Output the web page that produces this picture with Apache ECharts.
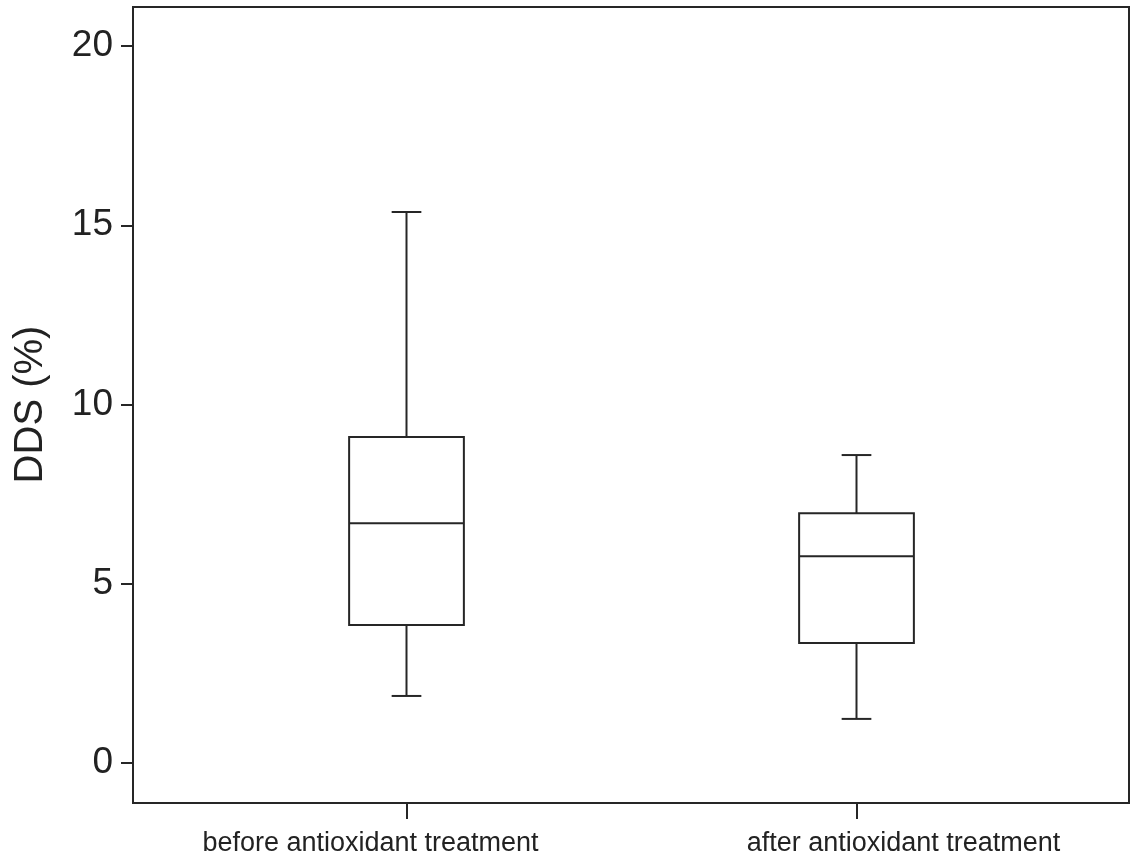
<!DOCTYPE html>
<html>
<head>
<meta charset="utf-8">
<script src="https://cdn.jsdelivr.net/npm/echarts@6/dist/echarts.min.js"></script>
<style>html,body{margin:0;padding:0;background:#fff;}#c{width:1130px;height:861px;}</style>
</head>
<body>
<div id="c"></div>
<script>
const categories = ['before antioxidant treatment', 'after antioxidant treatment'];
const mins = [1.87, 1.23];
const q1s = [3.85, 3.35];
const medians = [6.69, 5.77];
const q3s = [9.09, 6.97];
const maxs = [15.37, 8.59];
const yTicks = [0, 5, 10, 15, 20];

const boxData = categories.map((c, i) => [i, mins[i], q1s[i], medians[i], q3s[i], maxs[i]]);
const INK = '#262626';
const labelFont = {fontFamily: 'Liberation Sans', fontSize: 27, color: '#222'};

const chart = echarts.init(document.getElementById('c'), null, {renderer: 'canvas'});
chart.setOption({
  backgroundColor: '#fff',
  animation: false,
  grid: [
    {left: 133, right: 1, top: 7, bottom: 58, show: true, borderColor: INK, borderWidth: 2, backgroundColor: 'transparent'},
    {left: 181.5, right: 48.5, top: 46, bottom: 98},
    {left: 181.5, right: 48.5, top: 7, bottom: 58}
  ],
  xAxis: [
    {gridIndex: 0, type: 'value', show: false},
    {gridIndex: 1, type: 'category', data: categories, show: false},
    {gridIndex: 2, type: 'category', data: categories,
      axisLine: {show: false},
      axisTick: {show: true, alignWithLabel: true, interval: 0, length: 16, lineStyle: {color: INK, width: 2}},
      axisLabel: Object.assign({}, labelFont, {
        margin: 27,
        interval: 0,
        hideOverlap: false,
        formatter: function (v, i) { return '{l' + i + '|' + v + '}'; },
        rich: {
          l0: Object.assign({}, labelFont, {padding: [0, 72, 0, 0]}),
          l1: Object.assign({}, labelFont, {padding: [0, 0, 0, 94]})
        }
      })
    }
  ],
  yAxis: [
    {gridIndex: 0, type: 'value', show: false},
    {gridIndex: 1, type: 'value', min: yTicks[0], max: yTicks[yTicks.length - 1], interval: 5, offset: 48.5,
      axisLine: {show: false},
      splitLine: {show: false},
      axisTick: {show: true, length: 12, lineStyle: {color: INK, width: 2}},
      axisLabel: {fontFamily: 'Liberation Sans', fontSize: 37, color: '#222', margin: 20},
      name: 'DDS (%)', nameLocation: 'middle', nameGap: 82,
      nameTextStyle: {fontFamily: 'Liberation Sans', fontSize: 40, color: '#222'}
    },
    {gridIndex: 2, type: 'value', show: false}
  ],
  series: [{
    type: 'custom',
    xAxisIndex: 1, yAxisIndex: 1,
    data: boxData,
    encode: {x: 0, y: [1, 2, 3, 4, 5]},
    renderItem: function (params, api) {
      const x = api.value(0);
      const band = api.size([1, 0])[0];
      const cx = api.coord([x, 0])[0];
      const bw = band * 0.255, cw = band * 0.066;
      const yMin = api.coord([x, api.value(1)])[1];
      const yQ1 = api.coord([x, api.value(2)])[1];
      const yMed = api.coord([x, api.value(3)])[1];
      const yQ3 = api.coord([x, api.value(4)])[1];
      const yMax = api.coord([x, api.value(5)])[1];
      const ls = {stroke: INK, lineWidth: 2, fill: null};
      return {type: 'group', children: [
        {type: 'line', shape: {x1: cx, y1: yQ3, x2: cx, y2: yMax}, style: ls},
        {type: 'line', shape: {x1: cx, y1: yQ1, x2: cx, y2: yMin}, style: ls},
        {type: 'line', shape: {x1: cx - cw / 2, y1: yMax, x2: cx + cw / 2, y2: yMax}, style: ls},
        {type: 'line', shape: {x1: cx - cw / 2, y1: yMin, x2: cx + cw / 2, y2: yMin}, style: ls},
        {type: 'rect', shape: {x: cx - bw / 2, y: yQ3, width: bw, height: yQ1 - yQ3}, style: {stroke: INK, lineWidth: 2, fill: '#fff'}},
        {type: 'line', shape: {x1: cx - bw / 2, y1: yMed, x2: cx + bw / 2, y2: yMed}, style: ls}
      ]};
    }
  }]
});
</script>
</body>
</html>
